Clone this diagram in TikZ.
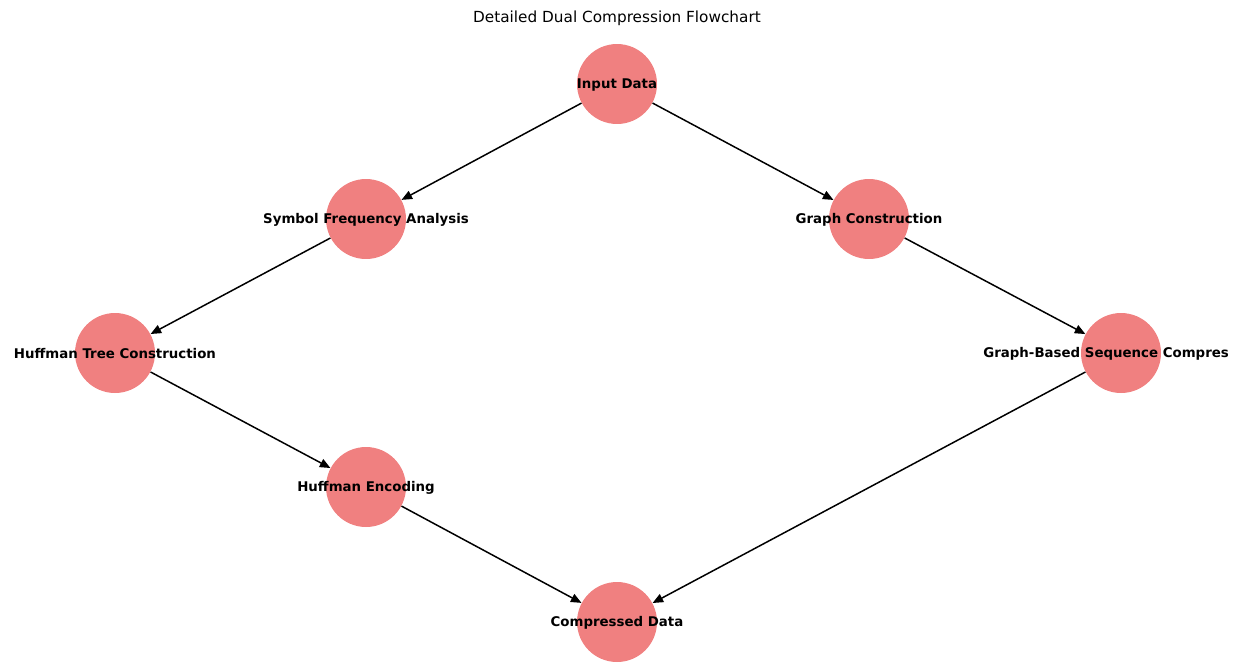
\documentclass[tikz,border=0pt]{standalone}
\usepackage{fontspec}
\setmainfont{DejaVu Sans}
\usetikzlibrary{arrows.meta}
\definecolor{nodecoral}{HTML}{F08080}
\tikzset{
  stage/.style={circle, fill=nodecoral, draw=none, minimum size=1.6cm, inner sep=0pt},
  stagelabel/.style={font=\fontsize{7.6}{9}\selectfont\bfseries, inner sep=0pt, yshift=-0.5pt},
  flow/.style={line width=0.85pt, -{Triangle[length=6pt,width=5pt]}},
}
\begin{document}
\begin{tikzpicture}[x=0.02cm,y=-0.02cm]

    \useasboundingbox (0,0) rectangle (1247,670);

    \node[font=\fontsize{8.7}{10}\selectfont] (title) at (617,18) {Detailed Dual Compression Flowchart}; % ----- Titre

    \foreach \n/\x/\y in {inp/617/84, sfa/366/219, gcn/869/219, htc/115/353, gsc/1121/353, hen/366/487, cmp/617/622} % ----- Etapes
        \node[stage] (\n) at (\x,\y) {};

    \foreach \a/\b in {inp/sfa, sfa/htc, htc/hen, hen/cmp, inp/gcn, gcn/gsc, gsc/cmp} % ----- Fleches
        \draw[flow] (\a) -- (\b);

    \foreach \n/\t in {inp/Input Data, sfa/Symbol Frequency Analysis, gcn/Graph Construction, htc/Huffman Tree Construction, hen/Huffman Encoding, cmp/Compressed Data}{% ----- Textes
        \node[stagelabel] (\n-lbl) at (\n) {\t};
    }
    \node[stagelabel, anchor=west] (gsc-lbl) at (983,353) {Graph-Based Sequence Compres};
\end{tikzpicture}
\end{document}
